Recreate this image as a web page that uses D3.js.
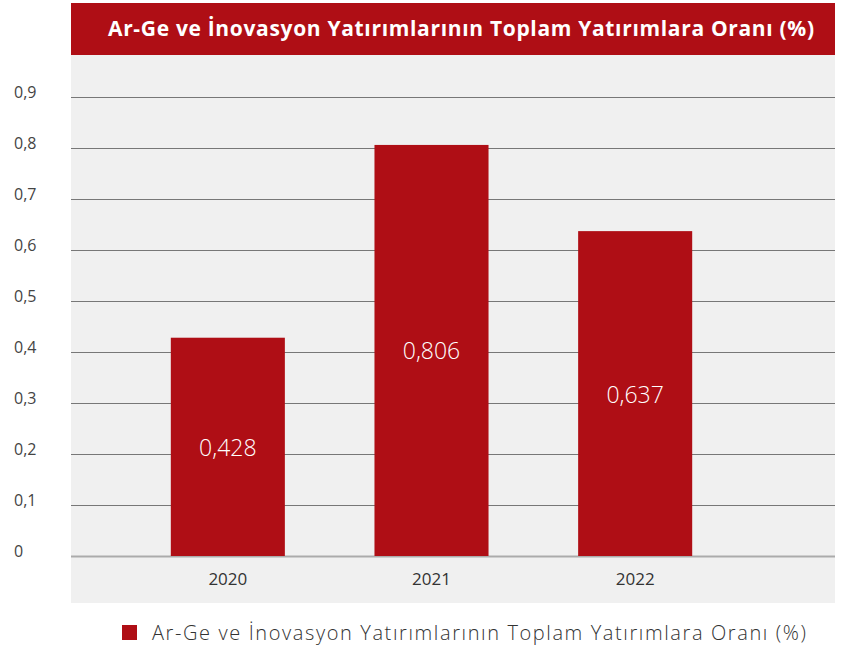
<!DOCTYPE html>
<html>
<head>
<meta charset="utf-8">
<script src="https://cdn.jsdelivr.net/npm/d3@7"></script>
<style>
  body { margin: 0; background: #fff; }
  svg { display: block; font-family: "Open Sans", sans-serif; }
</style>
</head>
<body>
<div id="chart"></div>
<script>
// chart data
const years = ["2020", "2021", "2022"];
const values = [0.428, 0.806, 0.637];
const valueLabels = ["0,428", "0,806", "0,637"];
const yTicks = [0, 0.1, 0.2, 0.3, 0.4, 0.5, 0.6, 0.7, 0.8, 0.9];
const titleText = "Ar-Ge ve İnovasyon Yatırımlarının Toplam Yatırımlara Oranı (%)";

const red = "#af0e15";
const W = 849, H = 648;

const svg = d3.select("#chart").append("svg")
    .attr("width", W)
    .attr("height", H);

// panel area
const panel = {left: 71, right: 835, top: 55, bottom: 603};

svg.append("rect")
    .attr("x", panel.left).attr("y", panel.top)
    .attr("width", panel.right - panel.left)
    .attr("height", panel.bottom - panel.top)
    .attr("fill", "#f0f0f0");

// title bar
svg.append("rect")
    .attr("x", panel.left).attr("y", 3)
    .attr("width", panel.right - panel.left)
    .attr("height", 52)
    .attr("fill", red);

svg.append("text")
    .attr("x", 108).attr("y", 36)
    .attr("fill", "#fff")
    .attr("font-size", 21)
    .attr("font-weight", 700)
    .attr("textLength", 706)
    .attr("lengthAdjust", "spacing")
    .text(titleText);

// scales
const y = d3.scaleLinear().domain([0, 0.9]).range([556, 97]);
const x = d3.scaleBand().domain(years).range([126, 737]).paddingInner(0.44).paddingOuter(0.22);

// gridlines
svg.append("g").selectAll("line")
    .data(yTicks)
    .join("line")
    .attr("x1", panel.left).attr("x2", panel.right)
    .attr("y1", d => Math.round(y(d)) + 0.5)
    .attr("y2", d => Math.round(y(d)) + 0.5)
    .attr("stroke", d => d === 0 ? "#ababab" : "#777")
    .attr("stroke-width", d => d === 0 ? 2 : 1.2);

// y labels
svg.append("g").selectAll("text")
    .data(yTicks)
    .join("text")
    .attr("x", 14)
    .attr("y", d => y(d) + 1)
    .attr("fill", "#444")
    .attr("font-size", 16)
    .text(d => d3.format(".1f")(d).replace(".", ",").replace(/^0,0$/, "0"));

// bars
svg.append("g").selectAll("rect")
    .data(values)
    .join("rect")
    .attr("x", (d, i) => x(years[i]))
    .attr("y", d => y(d))
    .attr("width", x.bandwidth())
    .attr("height", d => y(0) - y(d))
    .attr("fill", red);

// value labels
svg.append("g").selectAll("text")
    .data(values)
    .join("text")
    .attr("x", (d, i) => x(years[i]) + x.bandwidth() / 2)
    .attr("y", d => (y(d) + y(0)) / 2)
    .attr("text-anchor", "middle")
    .attr("dominant-baseline", "central")
    .attr("fill", "#fff")
    .attr("font-size", 23)
    .attr("font-weight", 300)
    .text((d, i) => valueLabels[i]);

// x labels
svg.append("g").selectAll("text")
    .data(years)
    .join("text")
    .attr("x", d => x(d) + x.bandwidth() / 2)
    .attr("y", 585)
    .attr("text-anchor", "middle")
    .attr("fill", "#333")
    .attr("font-size", 17)
    .text(d => d);

// legend
svg.append("rect")
    .attr("x", 122).attr("y", 625)
    .attr("width", 15).attr("height", 15)
    .attr("fill", red);

svg.append("text")
    .attr("x", 152).attr("y", 640)
    .attr("fill", "#333")
    .attr("font-size", 20)
    .attr("font-weight", 300)
    .attr("textLength", 654)
    .attr("lengthAdjust", "spacing")
    .text(titleText);
</script>
</body>
</html>
